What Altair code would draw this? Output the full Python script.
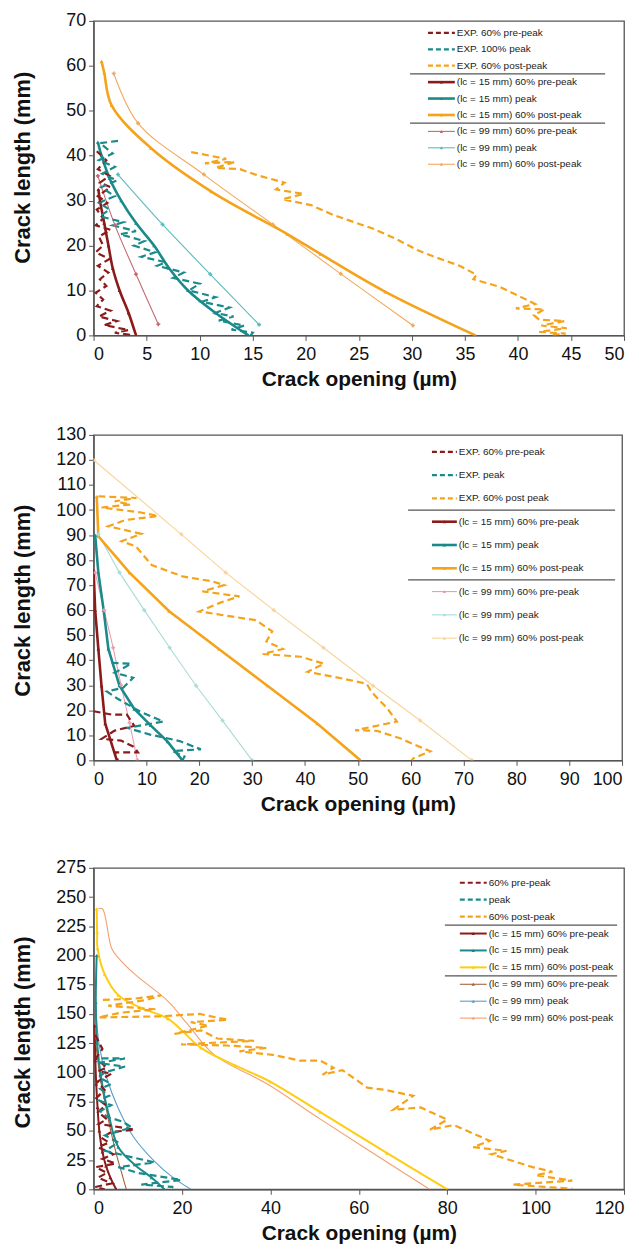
import altair as alt
import pandas as pd

FONT = "Liberation Sans"

# ---------------- Panel 1 data ----------------
P1_X_TICKS = list(range(0, 51, 5))
P1_Y_TICKS = list(range(0, 71, 10))

P1_EXP_PRE_X = [0.3, 1.2, 0.4, 1.5, 0.6, 1.6, 0.4, 1.3, 0.3, 0.9, 0.2, 1.6, 0.5, 0.9, 0.2, 1.5, 0.4, 1.4, 0.6, 1.2,
                0.2, 0.9, 0.3, 1.6, 0.5, 2.2, 1.0, 3.3, 2.0, 3.8]
P1_EXP_PRE_Y = [41, 39, 37, 35.5, 34, 33, 31, 29.5, 28, 26, 24.5, 23.5, 22, 20, 18.5, 17, 15.5, 14, 12.5, 11,
                9.5, 8, 6.5, 5.5, 4.2, 3.2, 2.3, 1.2, 0.6, 0]
P1_EXP_PEAK_X = [2.3, 0.6, 1.8, 0.5, 2.0, 0.8, 2.2, 0.7, 2.0, 0.5, 1.5, 0.6, 2.8, 1.8, 4.0, 2.5, 4.8, 3.8, 5.8, 4.5,
                 6.8, 6.0, 8.5, 7.5, 10.0, 9.0, 11.5, 10.2, 12.8, 11.5, 13.2, 11.8, 14.2, 13.0, 15.0, 14.8]
P1_EXP_PEAK_Y = [43.3, 42.8, 40.5, 39, 37.5, 36, 34.5, 33, 31, 29.5, 28, 26.5, 25.2, 24.5, 23.2, 22.5, 21, 20, 18.5, 17.5,
                 16.3, 15.5, 14, 12.8, 11.5, 10, 8.5, 7.5, 6.2, 5, 4.2, 3.3, 2.2, 1.3, 0.6, 0]
P1_EXP_POST_X = [9.2, 12.5, 10.5, 13.3, 11.5, 13.8, 15.5, 18.0, 17.2, 19.8, 17.8, 20.5, 22.6, 26.3, 28.5, 30.5, 32.0,
                 34.5, 36.1, 35.8, 38.3, 40.5, 41.6, 39.8, 42.5, 41.5, 42.0, 44.4, 42.2, 44.6, 42.0, 44.5, 43.0]
P1_EXP_POST_Y = [40.8, 39.3, 38.3, 38.6, 37.3, 37.0, 35.6, 34.0, 32.5, 31.5, 30.3, 29.0, 26.8, 23.8, 21.5, 19.0, 17.6,
                 15.5, 13.5, 12.5, 10.8, 8.3, 7.0, 6.0, 5.8, 4.5, 3.5, 3.2, 2.2, 1.6, 0.8, 0.4, 0]
P1_M15_PRE_X = [4.0, 3.3, 2.45, 1.8, 1.4, 1.0, 0.6, 0.45]
P1_M15_PRE_Y = [0, 5, 10, 15, 20, 25, 30, 32.5]
P1_M15_PEAK_X = [14.6, 11.5, 8.9, 7.1, 5.7, 4.0, 2.6, 1.5, 0.75, 0.4]
P1_M15_PEAK_Y = [0, 5, 10, 15, 20, 25, 30, 35, 40, 43]
P1_M15_POST_X = [36.0, 27.5, 21.4, 18.3, 11.1, 5.4, 1.7, 1.0, 0.75]
P1_M15_POST_Y = [0, 9.7, 18.1, 22.5, 32, 41.7, 51.2, 58.5, 61]
P1_M99_PRE_X = [6.1, 4.0, 2.0, 0.4]
P1_M99_PRE_Y = [2.5, 13.6, 24.6, 35.5]
P1_M99_PEAK_X = [15.6, 11.0, 6.5, 2.3]
P1_M99_PEAK_Y = [2.4, 13.6, 24.7, 35.8]
P1_M99_POST_X = [30.1, 23.3, 16.9, 10.4, 4.2, 1.9]
P1_M99_POST_Y = [2.2, 13.7, 24.7, 35.8, 47.2, 58.3]

P1_LABELS = ["EXP. 60% pre-peak", "EXP. 100% peak", "EXP. 60% post-peak",
             "(lc = 15 mm) 60% pre-peak", "(lc = 15 mm) peak", "(lc = 15 mm) 60% post-peak",
             "(lc = 99 mm) 60% pre-peak", "(lc = 99 mm) peak", "(lc = 99 mm) 60% post-peak"]
P1_COLORS = ["#8b1a1a", "#1a8a8a", "#f5a31a", "#8b1a1a", "#1a8a8a", "#f5a31a", "#c46a72", "#5cbcbc", "#f2a85a"]

# ---------------- Panel 2 data ----------------
P2_X_TICKS = list(range(0, 101, 10))
P2_Y_TICKS = list(range(0, 131, 10))

P2_EXP_PRE_X = [0, 3.4, 6.3, 7.7, 4.0, 1.5, 5.2, 7.7, 8.4, 4.0, 4.6]
P2_EXP_PRE_Y = [19.6, 18.3, 18.3, 13.8, 11.9, 8.6, 7.9, 5.3, 3.2, 3.2, 0]
P2_EXP_PEAK_X = [3.4, 7.1, 4.0, 7.5, 5.6, 2.5, 4.4, 8.8, 13.2, 6.3, 10.7, 16.3, 20.3, 15.0, 17.2, 16.8]
P2_EXP_PEAK_Y = [39.0, 38.6, 35.0, 33.0, 29.0, 27.5, 24.8, 19.5, 15.5, 13.0, 10.3, 7.7, 4.4, 3.7, 1.5, 0]
P2_EXP_POST_X = [0.9, 8.1, 4.0, 7.0, 1.5, 9.0, 12.2, 6.0, 2.8, 9.0, 5.3, 8.0, 11.0, 16.8, 22.5, 24.7, 20.6, 27.6,
                 24.0, 20.0, 26.0, 30.7, 33.8, 32.7, 35.8, 32.0, 39.2, 43.6, 40.5, 47.3, 51.7, 52.6, 55.6, 57.4,
                 49.5, 53.6, 58.0, 63.7, 60.5, 60.2]
P2_EXP_POST_Y = [105.5, 104.8, 103.5, 102.2, 101.0, 99.0, 97.6, 96.0, 93.5, 90.5, 87.5, 85.5, 78.0, 73.5, 71.5, 70.0,
                 67.5, 65.5, 63.0, 59.5, 57.5, 56.0, 51.5, 47.5, 44.5, 42.5, 41.4, 38.6, 35.4, 32.6, 30.6, 27.3,
                 20.7, 15.5, 12.0, 11.8, 8.8, 3.6, 0.8, 0]
P2_M15_PRE_X = [4.4, 2.2, 1.5, 0.9, 0.3, 0.0]
P2_M15_PRE_Y = [0, 14.7, 29.8, 44.5, 60, 76]
P2_M15_PEAK_X = [16.8, 14.0, 10.8, 7.7, 4.9, 2.8, 1.9, 0.9, 0.3]
P2_M15_PEAK_Y = [0, 7.5, 14, 20.5, 29.8, 44.5, 60, 75, 90]
P2_M15_POST_X = [50.5, 42.3, 32.9, 23.7, 14.3, 6.8, 0.9, 0.6]
P2_M15_POST_Y = [0, 14.7, 29.8, 44.5, 59.6, 75, 89.5, 105.4]
P2_M99_PRE_X = [8.3, 6.8, 5.2, 3.7, 2.0, 0.3]
P2_M99_PRE_Y = [0, 15, 30, 45, 60, 75]
P2_M99_PEAK_X = [30.0, 24.4, 19.4, 14.4, 9.6, 4.9, 0.9]
P2_M99_PEAK_Y = [0, 15.9, 29.8, 45, 60, 75, 90.3]
P2_M99_POST_X = [71.6, 61.8, 52.9, 43.5, 34.1, 25.0, 16.6, 0.0]
P2_M99_POST_Y = [0, 15.9, 29.8, 45, 60, 75, 90.3, 120]

P2_LABELS = ["EXP. 60% pre-peak", "EXP. peak", "EXP. 60% post peak",
             "(lc = 15 mm) 60% pre-peak", "(lc = 15 mm) peak", "(lc = 15 mm)  60% post-peak",
             "(lc = 99 mm)  60% pre-peak", "(lc = 99 mm) peak", "(lc = 99 mm) 60% post-peak"]
P2_COLORS = ["#8b1a1a", "#1a8a8a", "#f5a31a", "#8b1a1a", "#1a8a8a", "#f5a31a", "#e8a0b0", "#a8dcd6", "#f8d49a"]

# ---------------- Panel 3 data ----------------
P3_X_TICKS = list(range(0, 121, 20))
P3_Y_TICKS = list(range(0, 276, 25))

P3_EXP_PRE_X = [0.4, 2.0, 0.5, 3.0, 1.0, 4.1, 0.8, 2.5, 0.6, 2.8, 1.0, 3.0, 1.2, 9.3, 4.0, 1.8, 3.5, 1.0, 4.5, 2.0,
                5.0, 0.5, 3.0, 1.0, 4.1, 0.4, 2.5]
P3_EXP_PRE_Y = [132, 120, 112, 104, 101, 99, 92, 85, 78, 72, 66, 60, 56, 51, 49, 44, 40, 36, 30, 26,
                22, 19, 14, 10, 5, 2, 0]
P3_EXP_PEAK_X = [1.8, 7.1, 1.1, 7.1, 2.5, 1.2, 4.0, 1.5, 3.5, 1.2, 4.0, 1.5, 3.0, 6.5, 8.6, 2.6, 5.6, 2.6, 8.0, 13.8,
                 5.6, 10.0, 19.8, 10.8, 18.0, 16.8]
P3_EXP_PEAK_Y = [112, 112, 108, 105, 100, 96, 90, 86, 80, 76, 72, 67, 62, 58, 53, 46, 40, 33, 28, 23,
                 19, 14, 8, 4, 2, 0]
P3_EXP_POST_X = [2.1, 9.0, 15.3, 12.0, 3.3, 14.0, 6.0, 1.1, 15.0, 24.0, 30.4, 22.0, 26.0, 18.3, 24.3, 28.0, 36.3,
                 19.8, 30.0, 39.1, 33.0, 40.6, 46.8, 51.3, 54.3, 51.8, 56.3, 61.9, 66.0, 72.3, 67.8, 74.0, 80.0,
                 76.1, 81.5, 89.6, 85.9, 93.4, 90.0, 99.3, 103.8, 100.0, 108.3, 94.9, 102.0, 108.3]
P3_EXP_POST_Y = [162, 163, 166, 162, 157, 154, 151, 147, 148, 150, 145, 143, 140, 133, 136, 129, 127,
                 124, 123, 121, 118, 115, 110, 110, 104, 98, 102, 87, 85, 80, 68, 70, 59.6,
                 51, 55, 41.5, 36, 33, 30, 19, 15, 12, 7.4, 4, 2, 0.5]
P3_M15_PRE_X = [0.2, 0.4, 0.6, 0.9, 1.3, 2.0, 2.8, 3.8, 5.1]
P3_M15_PRE_Y = [140, 110, 90, 70, 50, 32, 20, 10, 0]
P3_M15_PEAK_X = [0.7, 0.5, 0.8, 1.8, 3.4, 5.6, 9.3, 13.1, 16.0]
P3_M15_PEAK_Y = [200, 160, 125, 93, 64, 36, 21, 10, 0]
P3_M15_POST_X = [0.7, 0.8, 0.9, 2.5, 5.6, 10.8, 16.8, 24.3, 32.0, 40.0, 51.3, 66.4, 80.0]
P3_M15_POST_Y = [240, 220, 206, 184, 166, 155, 146, 121, 106, 92, 66, 31, 0]
P3_M99_PRE_X = [0.4, 1.5, 2.8, 4.0, 5.3, 6.5, 7.4]
P3_M99_PRE_Y = [128, 95, 70, 48, 28, 12, 0]
P3_M99_PEAK_X = [0.5, 1.2, 3.0, 5.5, 9.0, 13.5, 18.0, 22.0]
P3_M99_PEAK_Y = [160, 125, 95, 70, 45, 25, 10, 0]
P3_M99_POST_X = [1.1, 2.0, 4.1, 5.6, 9.3, 16.8, 21.3, 27.3, 39.3, 51.3, 76.0]
P3_M99_POST_Y = [240, 240, 206, 198, 184, 161, 141, 115, 90, 60, 0]

P3_LABELS = ["60% pre-peak", "peak", "60% post-peak",
             "(lc = 15 mm) 60% pre-peak", "(lc = 15 mm) peak", "(lc = 15 mm) 60% post-peak",
             "(lc = 99 mm) 60% pre-peak", "(lc = 99 mm) peak", "(lc = 99 mm) 60% post-peak"]
P3_COLORS = ["#8b1a1a", "#1a8a8a", "#f5a31a", "#8b1a1a", "#1a8a8a", "#ffcc11", "#a8623a", "#5a9ec8", "#f4a070"]

KINDS = ["exp", "exp", "exp", "m15", "m15", "m15", "m99", "m99", "m99"]


def make_panel(xs_list, ys_list, labels, colors, xdom, xticks, ydom, yticks, w, h,
               leg, markers99, x_title_y, y_title_y, m15_width, smooth):
    rows = []
    for k, (xs, ys) in enumerate(zip(xs_list, ys_list)):
        for i, (xv, yv) in enumerate(zip(xs, ys)):
            rows.append({"s": "s%d" % k, "c": colors[k], "kind": KINDS[k], "x": xv, "y": yv, "i": i})
    df = pd.DataFrame(rows)

    xenc = alt.X("x:Q", scale=alt.Scale(domain=xdom, nice=False, zero=False),
                 axis=alt.Axis(values=xticks, title="Crack opening (µm)", titleY=x_title_y,
                               titleBaseline="top", titleFontSize=21, labelPadding=5))
    yenc = alt.Y("y:Q", scale=alt.Scale(domain=ydom, nice=False, zero=False),
                 axis=alt.Axis(values=yticks, title="Crack length (mm)", titleX=-59, titleY=y_title_y,
                               titleAngle=270, titleBaseline="bottom", titleFontSize=22, labelPadding=3))
    col = alt.Color("c:N", scale=None, legend=None)

    layers = []
    styles = {"exp": dict(strokeDash=[7, 4], strokeWidth=2.2),
              "m15": dict(strokeWidth=m15_width),
              "m99": dict(strokeWidth=1.1)}
    for kind in ["m99", "m15", "exp"]:
        sub = df[df.kind == kind]
        extra = {}
        if smooth and kind != "exp":
            extra["interpolate"] = "catmull-rom"
        layers.append(alt.Chart(sub).mark_line(clip=True, **styles[kind], **extra).encode(
            x=xenc, y=yenc, color=col, detail="s:N", order="i:Q"))
    layers.append(alt.Chart(df[df.kind == "m15"]).mark_point(
        shape="triangle-up", size=14, filled=True, opacity=1, clip=True).encode(x=xenc, y=yenc, color=col))
    if markers99:
        layers.append(alt.Chart(df[df.kind == "m99"]).mark_point(
            shape="cross", size=16, filled=True, opacity=1, clip=True).encode(x=xenc, y=yenc, color=col))

    # ----- legend (layout in pixels) -----
    top, step, sx0, sx1, tx, sep0, sep1, fs = leg
    lrows = []
    for r, lab in enumerate(labels):
        lrows.append({"lab": lab, "c": colors[r], "kind": KINDS[r], "ly": top + r * step})
    ldf = pd.DataFrame(lrows)
    sdf = pd.DataFrame({"ly": [top + 2.5 * step, top + 5.5 * step]})
    ly = alt.Y("ly:Q", scale=None, axis=None)
    lc = alt.Color("c:N", scale=None, legend=None)
    layers.append(alt.Chart(sdf).mark_rule(color="#555", strokeWidth=1.2).encode(
        x=alt.value(sep0), x2=alt.value(sep1), y=ly))
    for kind in ["exp", "m15", "m99"]:
        st = dict(styles[kind])
        if kind == "exp":
            st["strokeDash"] = [5, 3]
        layers.append(alt.Chart(ldf[ldf.kind == kind]).mark_rule(**st).encode(
            x=alt.value(sx0), x2=alt.value(sx1), y=ly, color=lc))
    layers.append(alt.Chart(ldf[ldf.kind != "exp"]).mark_point(
        shape="triangle-up", size=12, filled=True, opacity=1).encode(
        x=alt.value((sx0 + sx1) / 2), y=ly, color=lc))
    layers.append(alt.Chart(ldf).mark_text(align="left", baseline="middle", fontSize=fs, font=FONT,
                                           color="#222").encode(
        x=alt.value(tx), y=ly, text="lab:N"))

    return alt.layer(*layers).properties(width=w, height=h)


p1 = make_panel(
    [P1_EXP_PRE_X, P1_EXP_PEAK_X, P1_EXP_POST_X, P1_M15_PRE_X, P1_M15_PEAK_X, P1_M15_POST_X,
     P1_M99_PRE_X, P1_M99_PEAK_X, P1_M99_POST_X],
    [P1_EXP_PRE_Y, P1_EXP_PEAK_Y, P1_EXP_POST_Y, P1_M15_PRE_Y, P1_M15_PEAK_Y, P1_M15_POST_Y,
     P1_M99_PRE_Y, P1_M99_PEAK_Y, P1_M99_POST_Y],
    P1_LABELS, P1_COLORS, [0, 50], P1_X_TICKS, [0, 70], P1_Y_TICKS, 533, 316,
    (12, 16.5, 336, 363, 365, 318, 514, 10), True, 33, 147, 2.6, True)

p2 = make_panel(
    [P2_EXP_PRE_X, P2_EXP_PEAK_X, P2_EXP_POST_X, P2_M15_PRE_X, P2_M15_PEAK_X, P2_M15_POST_X,
     P2_M99_PRE_X, P2_M99_PEAK_X, P2_M99_POST_X],
    [P2_EXP_PRE_Y, P2_EXP_PEAK_Y, P2_EXP_POST_Y, P2_M15_PRE_Y, P2_M15_PEAK_Y, P2_M15_POST_Y,
     P2_M99_PRE_Y, P2_M99_PEAK_Y, P2_M99_POST_Y],
    P2_LABELS, P2_COLORS, [0, 100], P2_X_TICKS, [0, 130], P2_Y_TICKS, 531, 327,
    (17, 23.4, 340, 365, 367, 316, 524, 10), True, 33, 166, 2.6, False)

p3 = make_panel(
    [P3_EXP_PRE_X, P3_EXP_PEAK_X, P3_EXP_POST_X, P3_M15_PRE_X, P3_M15_PEAK_X, P3_M15_POST_X,
     P3_M99_PRE_X, P3_M99_PEAK_X, P3_M99_POST_X],
    [P3_EXP_PRE_Y, P3_EXP_PEAK_Y, P3_EXP_POST_Y, P3_M15_PRE_Y, P3_M15_PEAK_Y, P3_M15_POST_Y,
     P3_M99_PRE_Y, P3_M99_PEAK_Y, P3_M99_POST_Y],
    P3_LABELS, P3_COLORS, [0, 120], P3_X_TICKS, [0, 275], P3_Y_TICKS, 533, 323,
    (15, 17, 368, 395, 397, 353, 526, 10), False, 33, 165, 2.0, True)

upper = alt.vconcat(p1, p2, spacing=35)
chart = alt.vconcat(upper, p3, spacing=43).properties(
    padding={"left": 3, "top": 0, "right": 5, "bottom": 0}
).configure_view(
    stroke="#555", strokeWidth=1.3
).configure_axis(
    grid=False, labelFont=FONT, labelFontSize=18, labelColor="#111", titleFont=FONT,
    titleFontWeight="bold", titleColor="#111", domainColor="#555", tickColor="#555",
    tickSize=5, domainWidth=1.3
)

chart.save("out.html", embed_options={"renderer": "svg", "actions": False})
